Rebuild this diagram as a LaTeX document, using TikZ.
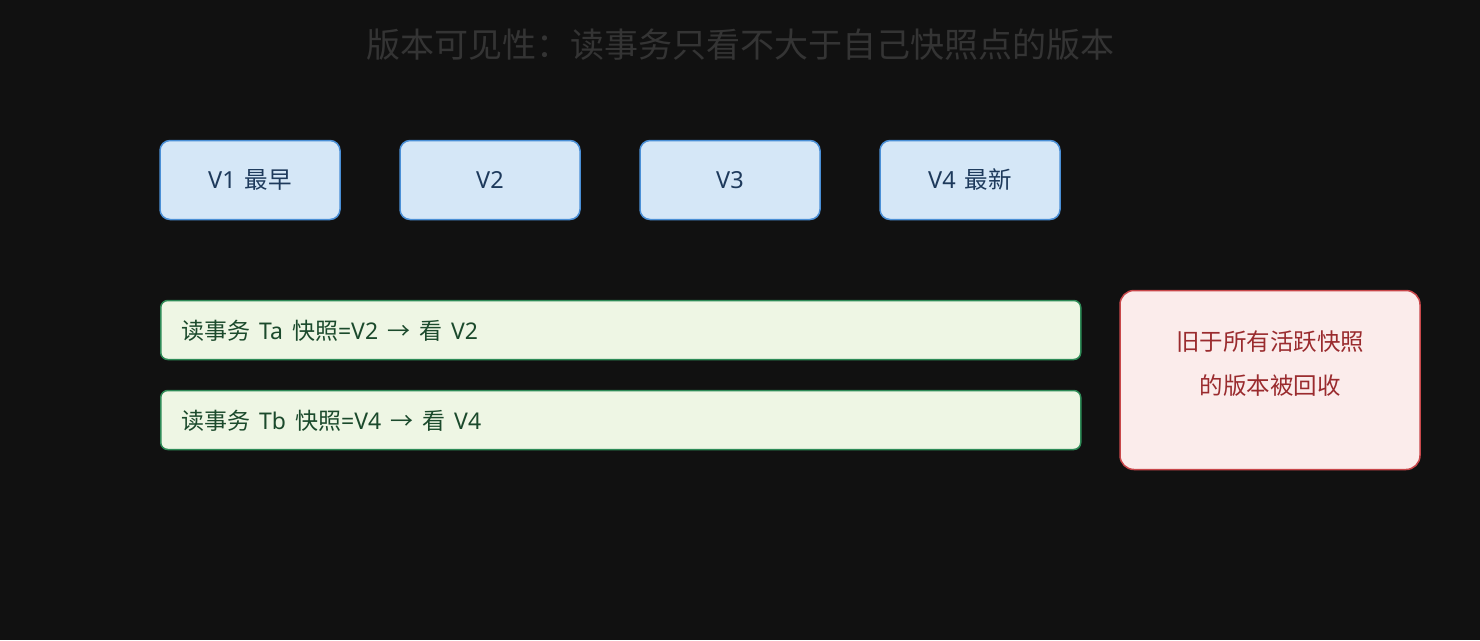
\documentclass[tikz,border=0pt]{standalone}
\usepackage{fontspec}
\setmainfont{Noto Sans CJK SC}
\newfontfamily\lat{Noto Sans}
\newcommand{\gapsp}{\hspace{9pt}}
\definecolor{bg}{HTML}{111111}
\definecolor{titlec}{HTML}{343434}
\definecolor{vfill}{HTML}{D5E7F7}
\definecolor{vdraw}{HTML}{4A8FD6}
\definecolor{vtext}{HTML}{1E3A5C}
\definecolor{gfill}{HTML}{EEF6E4}
\definecolor{gdraw}{HTML}{2E8B57}
\definecolor{gtext}{HTML}{1B4A2C}
\definecolor{rfill}{HTML}{FBECEB}
\definecolor{rdraw}{HTML}{C8474A}
\definecolor{rtext}{HTML}{9A2B2E}
\tikzset{
  verbox/.style={draw=vdraw, fill=vfill, line width=1.5pt, rounded corners=10pt,
    minimum width=180pt, minimum height=79pt, inner sep=0pt, text=vtext,
    font=\fontsize{23.5}{26}\selectfont},
  readbox/.style={draw=gdraw, fill=gfill, line width=1.5pt, rounded corners=7pt,
    minimum width=920pt, minimum height=59pt, inner sep=0pt, anchor=west},
  readtxt/.style={text=gtext, anchor=west, inner sep=0pt, font=\fontsize{23}{26}\selectfont},
  gcbox/.style={draw=rdraw, fill=rfill, line width=1.5pt, rounded corners=14pt,
    minimum width=300pt, minimum height=179pt, inner sep=0pt}
}
\begin{document}
\begin{tikzpicture}[x=1pt,y=-1pt]
\fill[bg] (0,0) rectangle (1480,640);
\useasboundingbox (0,0) rectangle (1480,640);
\node[text=titlec, font=\fontsize{34}{40}\selectfont, inner sep=0pt] (title) at (740,45) {版本可见性：读事务只看不大于自己快照点的版本};
\node[verbox] (v1) at (250,180) {{\lat V1}\gapsp 最早};
\node[verbox] (v2) at (490,180) {\lat V2};
\node[verbox] (v3) at (730,180) {\lat V3};
\node[verbox] (v4) at (970,180) {{\lat V4}\gapsp 最新};
\node[readbox] (ta) at (160,330) {};
\node[readtxt] (tatxt) at (181,331) {读事务\gapsp{\lat Ta}\gapsp 快照{\lat =V2}\gapsp →\gapsp 看\gapsp{\lat V2}};
\node[readbox] (tb) at (160,420) {};
\node[readtxt] (tbtxt) at (181,421) {读事务\gapsp{\lat Tb}\gapsp 快照{\lat =V4}\gapsp →\gapsp 看\gapsp{\lat V4}};
\node[gcbox] (gc) at (1270,380) {};
\node[text=rtext, align=center, font=\fontsize{23.5}{44}\selectfont, inner sep=0pt] (gctxt) at (1270,364) {旧于所有活跃快照\\的版本被回收};
\end{tikzpicture}
\end{document}
